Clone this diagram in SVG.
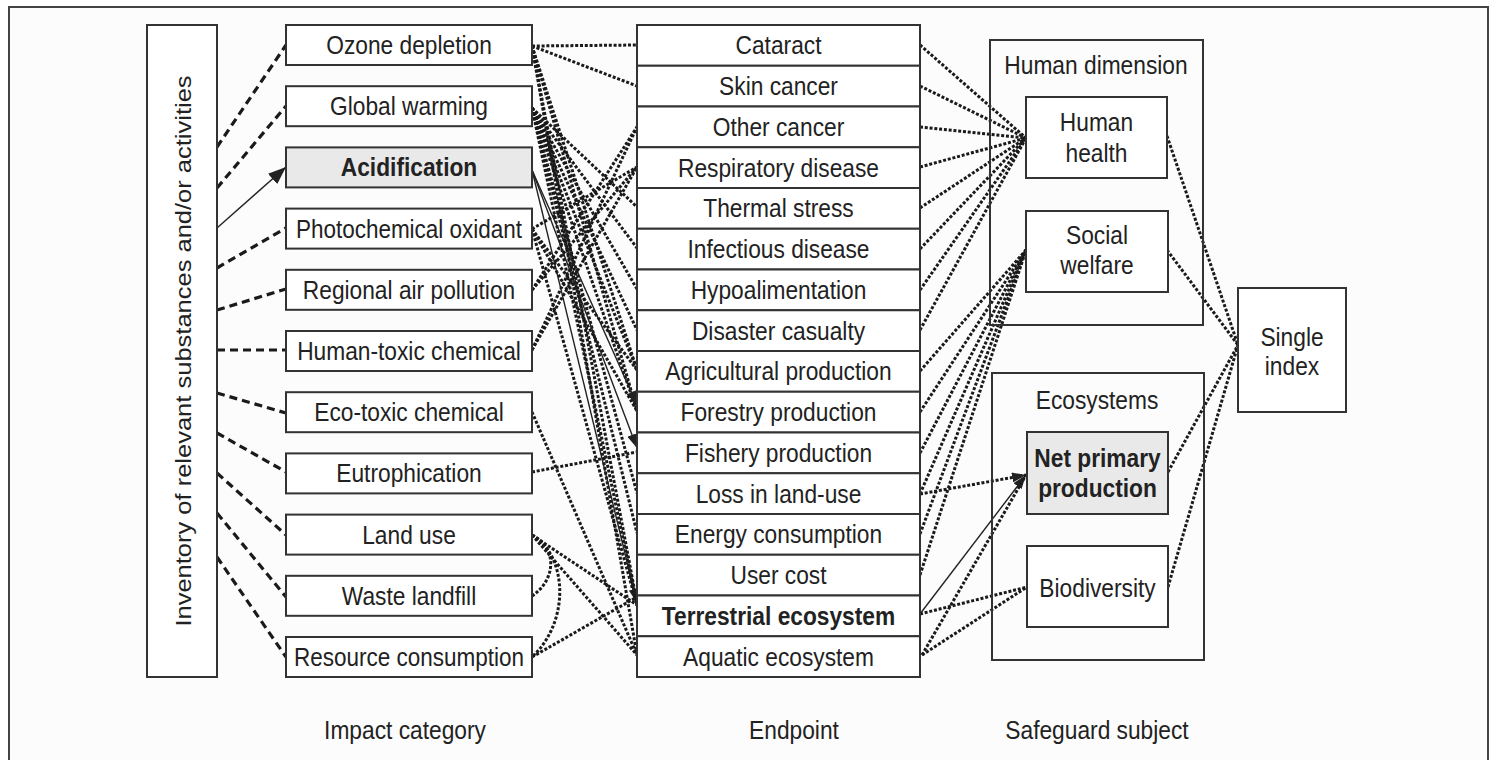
<svg xmlns="http://www.w3.org/2000/svg" width="1495" height="760" viewBox="0 0 1495 760">
<style>
text{font-family:"Liberation Sans",Arial,sans-serif;font-size:25px;fill:#222;text-anchor:middle}
.b{font-weight:bold}
.box{fill:#fff;stroke:#333;stroke-width:2}
.gray{fill:#e9e9e9;stroke:#333;stroke-width:2}
.dash{fill:none;stroke:#1a1a1a;stroke-width:3.2;stroke-dasharray:8 5}
.dot{fill:none;stroke:#1a1a1a;stroke-width:3;stroke-dasharray:3 1.8}
.sol{fill:none;stroke:#222;stroke-width:1.4}
</style>
<defs>
<marker id="ah" viewBox="0 0 18 14" refX="18" refY="7" markerWidth="18" markerHeight="14" markerUnits="userSpaceOnUse" orient="auto"><path d="M0,0 L18,7 L0,14 z" fill="#222"/></marker>
<marker id="ahs" viewBox="0 0 14 10" refX="14" refY="5" markerWidth="14" markerHeight="10" markerUnits="userSpaceOnUse" orient="auto"><path d="M0,0 L14,5 L0,10 z" fill="#222"/></marker>
</defs>
<rect x="0" y="0" width="1495" height="760" fill="#fff"/>
<rect x="9" y="7" width="1479" height="770" fill="#fcfcfc" stroke="#444" stroke-width="2"/>

<g id="connectors">
<line class="dash" x1="217" y1="147" x2="286" y2="45"/>
<line class="dash" x1="217" y1="188" x2="286" y2="106"/>
<line class="sol" x1="217" y1="228" x2="286" y2="167" marker-end="url(#ah)"/>
<line class="dash" x1="217" y1="268" x2="286" y2="228"/>
<line class="dash" x1="217" y1="310" x2="286" y2="289"/>
<line class="dash" x1="217" y1="350" x2="286" y2="350"/>
<line class="dash" x1="217" y1="393" x2="286" y2="413"/>
<line class="dash" x1="217" y1="433" x2="286" y2="472"/>
<line class="dash" x1="217" y1="473" x2="286" y2="535"/>
<line class="dash" x1="217" y1="513" x2="286" y2="597"/>
<line class="dash" x1="217" y1="557" x2="286" y2="657"/>
<line class="dot" x1="532" y1="46" x2="637" y2="45"/>
<line class="dot" x1="532" y1="46" x2="637" y2="86"/>
<line class="dot" x1="532" y1="46" x2="637" y2="370"/>
<line class="dot" x1="532" y1="46" x2="637" y2="411"/>
<line class="dot" x1="532" y1="46" x2="637" y2="603"/>
<line class="dot" x1="532" y1="46" x2="637" y2="655"/>
<line class="dot" x1="532" y1="108" x2="637" y2="207"/>
<line class="dot" x1="532" y1="108" x2="637" y2="248"/>
<line class="dot" x1="532" y1="108" x2="637" y2="289"/>
<line class="dot" x1="532" y1="108" x2="637" y2="330"/>
<line class="dot" x1="532" y1="108" x2="637" y2="370"/>
<line class="dot" x1="532" y1="108" x2="637" y2="411"/>
<line class="dot" x1="532" y1="108" x2="637" y2="493"/>
<line class="dot" x1="532" y1="108" x2="637" y2="533"/>
<line class="dot" x1="532" y1="108" x2="637" y2="605"/>
<line class="sol" x1="532" y1="170" x2="637" y2="405" marker-end="url(#ahs)"/>
<line class="sol" x1="532" y1="170" x2="637" y2="448" marker-end="url(#ahs)"/>
<line class="sol" x1="532" y1="170" x2="637" y2="603" marker-end="url(#ahs)"/>
<line class="dot" x1="532" y1="229" x2="637" y2="167"/>
<line class="dot" x1="532" y1="229" x2="637" y2="370"/>
<line class="dot" x1="532" y1="229" x2="637" y2="411"/>
<line class="dot" x1="532" y1="229" x2="637" y2="605"/>
<line class="dot" x1="532" y1="290" x2="637" y2="127"/>
<line class="dot" x1="532" y1="290" x2="637" y2="167"/>
<line class="dot" x1="532" y1="350" x2="637" y2="127"/>
<line class="dot" x1="532" y1="350" x2="637" y2="167"/>
<line class="dot" x1="532" y1="412" x2="637" y2="655"/>
<line class="dot" x1="532" y1="472" x2="637" y2="452"/>
<line class="dot" x1="532" y1="535" x2="637" y2="605"/>
<line class="dot" x1="532" y1="535" x2="637" y2="655"/>
<path class="dot" d="M532,535 C558,548 556,580 532,596"/>
<path class="dot" d="M532,535 C568,556 570,622 532,657"/>
<line class="dot" x1="532" y1="657" x2="637" y2="597"/>
<line class="dot" x1="920" y1="45" x2="1026" y2="138"/>
<line class="dot" x1="920" y1="86" x2="1026" y2="138"/>
<line class="dot" x1="920" y1="127" x2="1026" y2="138"/>
<line class="dot" x1="920" y1="167" x2="1026" y2="138"/>
<line class="dot" x1="920" y1="208" x2="1026" y2="138"/>
<line class="dot" x1="920" y1="249" x2="1026" y2="138"/>
<line class="dot" x1="920" y1="290" x2="1026" y2="138"/>
<line class="dot" x1="920" y1="330" x2="1026" y2="138"/>
<line class="dot" x1="920" y1="371" x2="1026" y2="250"/>
<line class="dot" x1="920" y1="412" x2="1026" y2="250"/>
<line class="dot" x1="920" y1="453" x2="1026" y2="250"/>
<line class="dot" x1="920" y1="494" x2="1026" y2="250"/>
<line class="dot" x1="920" y1="534" x2="1026" y2="250"/>
<line class="dot" x1="920" y1="575" x2="1026" y2="250"/>
<line class="dot" x1="920" y1="494" x2="1026" y2="475" marker-end="url(#ahs)"/>
<line class="sol" x1="920" y1="614" x2="1026" y2="475" marker-end="url(#ahs)"/>
<line class="dot" x1="922" y1="655" x2="1026" y2="475"/>
<line class="dot" x1="920" y1="614" x2="1027" y2="587"/>
<line class="dot" x1="922" y1="655" x2="1027" y2="587"/>
<line class="dot" x1="1167" y1="136" x2="1238" y2="345"/>
<line class="dot" x1="1167" y1="250" x2="1238" y2="345"/>
<line class="dot" x1="1168" y1="472" x2="1238" y2="345"/>
<line class="dot" x1="1168" y1="587" x2="1238" y2="345"/>
</g>

<g id="inventory">
<rect class="box" x="147" y="25" width="70" height="652"/>
<text transform="translate(183,351) rotate(-90) scale(1,0.9)" y="9" style="font-size:25.5px">Inventory of relevant substances and/or activities</text>
</g>

<g id="impact-ozone"><rect class="box" x="286" y="25" width="246" height="40"/><text transform="translate(409,54) scale(0.91,1)">Ozone depletion</text></g>
<g id="impact-warming"><rect class="box" x="286" y="86.2" width="246" height="40"/><text transform="translate(409,115.2) scale(0.91,1)">Global warming</text></g>
<g id="impact-acid"><rect class="gray" x="286" y="147.4" width="246" height="40"/><text class="b" transform="translate(409,176.4) scale(0.91,1)">Acidification</text></g>
<g id="impact-photo"><rect class="box" x="286" y="208.6" width="246" height="40"/><text transform="translate(409,237.6) scale(0.9,1)">Photochemical oxidant</text></g>
<g id="impact-regional"><rect class="box" x="286" y="269.8" width="246" height="40"/><text transform="translate(409,298.8) scale(0.91,1)">Regional air pollution</text></g>
<g id="impact-humantox"><rect class="box" x="286" y="331" width="246" height="40"/><text transform="translate(409,360) scale(0.91,1)">Human-toxic chemical</text></g>
<g id="impact-ecotox"><rect class="box" x="286" y="392.2" width="246" height="40"/><text transform="translate(409,421.2) scale(0.91,1)">Eco-toxic chemical</text></g>
<g id="impact-eutro"><rect class="box" x="286" y="453.4" width="246" height="40"/><text transform="translate(409,482.4) scale(0.91,1)">Eutrophication</text></g>
<g id="impact-landuse"><rect class="box" x="286" y="514.6" width="246" height="40"/><text transform="translate(409,543.6) scale(0.91,1)">Land use</text></g>
<g id="impact-waste"><rect class="box" x="286" y="575.8" width="246" height="40"/><text transform="translate(409,604.8) scale(0.91,1)">Waste landfill</text></g>
<g id="impact-resource"><rect class="box" x="286" y="637" width="246" height="40"/><text transform="translate(409,666) scale(0.9,1)">Resource consumption</text></g>

<g id="ep-cataract"><rect class="box" x="637" y="25" width="283" height="40.75"/><text transform="translate(778.5,54.4) scale(0.91,1)">Cataract</text></g>
<g id="ep-skin"><rect class="box" x="637" y="65.75" width="283" height="40.75"/><text transform="translate(778.5,95.1) scale(0.91,1)">Skin cancer</text></g>
<g id="ep-othercancer"><rect class="box" x="637" y="106.5" width="283" height="40.75"/><text transform="translate(778.5,135.9) scale(0.91,1)">Other cancer</text></g>
<g id="ep-resp"><rect class="box" x="637" y="147.25" width="283" height="40.75"/><text transform="translate(778.5,176.6) scale(0.91,1)">Respiratory disease</text></g>
<g id="ep-thermal"><rect class="box" x="637" y="188" width="283" height="40.75"/><text transform="translate(778.5,217.4) scale(0.91,1)">Thermal stress</text></g>
<g id="ep-infect"><rect class="box" x="637" y="228.75" width="283" height="40.75"/><text transform="translate(778.5,258.1) scale(0.91,1)">Infectious disease</text></g>
<g id="ep-hypo"><rect class="box" x="637" y="269.5" width="283" height="40.75"/><text transform="translate(778.5,298.9) scale(0.91,1)">Hypoalimentation</text></g>
<g id="ep-disaster"><rect class="box" x="637" y="310.25" width="283" height="40.75"/><text transform="translate(778.5,339.6) scale(0.91,1)">Disaster casualty</text></g>
<g id="ep-agri"><rect class="box" x="637" y="351" width="283" height="40.75"/><text transform="translate(778.5,380.4) scale(0.91,1)">Agricultural production</text></g>
<g id="ep-forest"><rect class="box" x="637" y="391.75" width="283" height="40.75"/><text transform="translate(778.5,421.1) scale(0.91,1)">Forestry production</text></g>
<g id="ep-fishery"><rect class="box" x="637" y="432.5" width="283" height="40.75"/><text transform="translate(778.5,461.9) scale(0.91,1)">Fishery production</text></g>
<g id="ep-lossland"><rect class="box" x="637" y="473.25" width="283" height="40.75"/><text transform="translate(778.5,502.6) scale(0.91,1)">Loss in land-use</text></g>
<g id="ep-energy"><rect class="box" x="637" y="514" width="283" height="40.75"/><text transform="translate(778.5,543.4) scale(0.91,1)">Energy consumption</text></g>
<g id="ep-usercost"><rect class="box" x="637" y="554.75" width="283" height="40.75"/><text transform="translate(778.5,584.1) scale(0.91,1)">User cost</text></g>
<g id="ep-terrestrial"><rect class="box" x="637" y="595.5" width="283" height="40.75"/><text class="b" transform="translate(778.5,624.9) scale(0.91,1)">Terrestrial ecosystem</text></g>
<g id="ep-aquatic"><rect class="box" x="637" y="636.25" width="283" height="40.75"/><text transform="translate(778.5,665.6) scale(0.91,1)">Aquatic ecosystem</text></g>

<g id="human-dimension"><rect x="990" y="40" width="213" height="285" fill="none" stroke="#333" stroke-width="2"/><text transform="translate(1096,74) scale(0.91,1)">Human dimension</text></g>
<g id="human-health"><rect class="box" x="1026" y="97" width="141" height="81"/><text transform="translate(1096.5,131) scale(0.91,1)">Human</text><text transform="translate(1096.5,162) scale(0.91,1)">health</text></g>
<g id="social-welfare"><rect class="box" x="1026" y="211" width="142" height="81"/><text transform="translate(1097,244) scale(0.91,1)">Social</text><text transform="translate(1097,274) scale(0.91,1)">welfare</text></g>
<g id="ecosystems"><rect x="992" y="373" width="212" height="287" fill="none" stroke="#333" stroke-width="2"/><text transform="translate(1097,409) scale(0.91,1)">Ecosystems</text></g>
<g id="npp"><rect class="gray" x="1027" y="432" width="141" height="82"/><text class="b" transform="translate(1097.5,467) scale(0.91,1)">Net primary</text><text class="b" transform="translate(1097.5,497) scale(0.91,1)">production</text></g>
<g id="biodiversity"><rect class="box" x="1027" y="546" width="141" height="81"/><text transform="translate(1097.5,597) scale(0.91,1)">Biodiversity</text></g>
<g id="single-index"><rect class="box" x="1238" y="288" width="108" height="124"/><text transform="translate(1292,346) scale(0.91,1)">Single</text><text transform="translate(1292,375) scale(0.91,1)">index</text></g>

<g id="column-labels">
<text transform="translate(405,739) scale(0.91,1)">Impact category</text>
<text transform="translate(794,739) scale(0.91,1)">Endpoint</text>
<text transform="translate(1097,739) scale(0.91,1)">Safeguard subject</text>
</g>
</svg>
